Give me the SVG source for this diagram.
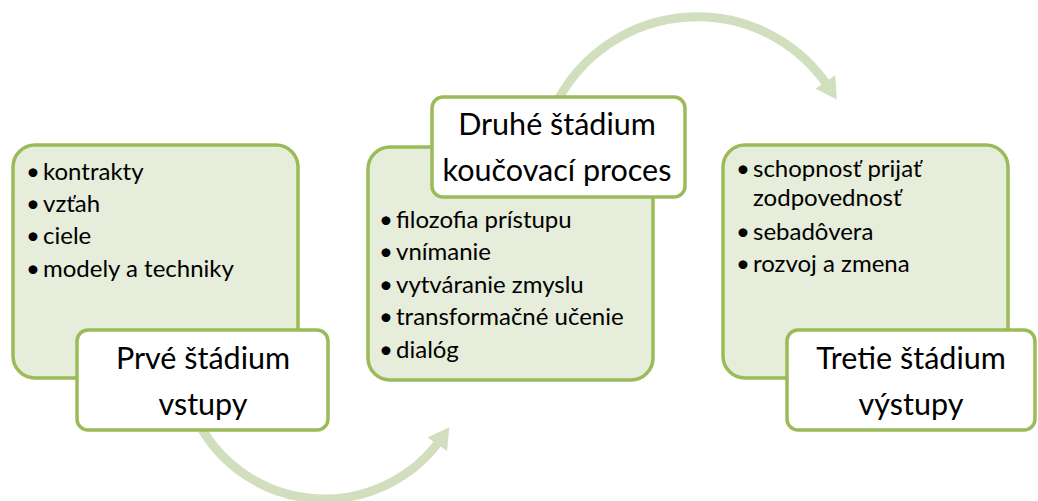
<svg xmlns="http://www.w3.org/2000/svg" width="1038" height="501" viewBox="0 0 1038 501">
<style>
.card{fill:#e6edda;stroke:#9bbb59;stroke-width:3.5}
.label{fill:#ffffff;stroke:#9bbb59;stroke-width:3.5}
.bt{font-family:Lato,"Liberation Sans",sans-serif;font-size:24px;fill:#000}
.lt{font-family:Lato,"Liberation Sans",sans-serif;font-size:30.5px;fill:#000;text-anchor:middle}
.arc{fill:none;stroke:#d2dfbf;stroke-width:9}
</style>
<defs>
<marker id="ah" markerUnits="userSpaceOnUse" markerWidth="24" markerHeight="26" viewBox="0 -13 24 26" refX="8" refY="0" orient="auto">
<path d="M0,-12 L21,0 L0,12 z" fill="#d2dfbf"/>
</marker>
</defs>
<rect width="1038" height="501" fill="#ffffff"/>
<g id="connectors">
<path class="arc" d="M199,424 A142.8,142.8 0 0 0 441.8,437.8" marker-end="url(#ah)"/>
<path class="arc" d="M558,100 A158,158 0 0 1 829.6,88.6" marker-end="url(#ah)"/>
</g>
<g id="stage1">
<rect class="card" x="13" y="145" width="285" height="233" rx="22"/>
<text class="bt" x="26" y="180">•</text><text class="bt" x="43" y="180">kontrakty</text>
<text class="bt" x="26" y="212">•</text><text class="bt" x="43" y="212">vzťah</text>
<text class="bt" x="26" y="244">•</text><text class="bt" x="43" y="244">ciele</text>
<text class="bt" x="26" y="277">•</text><text class="bt" x="43" y="277">modely a techniky</text>
</g>
<g id="stage1-label">
<rect class="label" x="77" y="330" width="251" height="100" rx="11"/>
<text class="lt" x="203" y="369">Prvé štádium</text>
<text class="lt" x="203" y="415">vstupy</text>
</g>
<g id="stage2">
<rect class="card" x="368" y="147" width="285" height="233" rx="22"/>
<text class="bt" x="379" y="228">•</text><text class="bt" x="396" y="228">filozofia prístupu</text>
<text class="bt" x="379" y="260">•</text><text class="bt" x="396" y="260">vnímanie</text>
<text class="bt" x="379" y="293">•</text><text class="bt" x="396" y="293">vytváranie zmyslu</text>
<text class="bt" x="379" y="325">•</text><text class="bt" x="396" y="325">transformačné učenie</text>
<text class="bt" x="379" y="358">•</text><text class="bt" x="396" y="358">dialóg</text>
</g>
<g id="stage2-label">
<rect class="label" x="432" y="97" width="253" height="100" rx="11"/>
<text class="lt" x="557" y="135">Druhé štádium</text>
<text class="lt" x="557" y="181">koučovací proces</text>
</g>
<g id="stage3">
<rect class="card" x="723" y="145" width="285" height="233" rx="22"/>
<text class="bt" x="736" y="177">•</text><text class="bt" x="753" y="177">schopnosť prijať<tspan x="753" dy="29">zodpovednosť</tspan></text>
<text class="bt" x="736" y="240">•</text><text class="bt" x="753" y="240">sebadôvera</text>
<text class="bt" x="736" y="272">•</text><text class="bt" x="753" y="272">rozvoj a zmena</text>
</g>
<g id="stage3-label">
<rect class="label" x="787" y="330" width="248" height="100" rx="11"/>
<text class="lt" x="911" y="369">Tretie štádium</text>
<text class="lt" x="911" y="415">výstupy</text>
</g>
</svg>
